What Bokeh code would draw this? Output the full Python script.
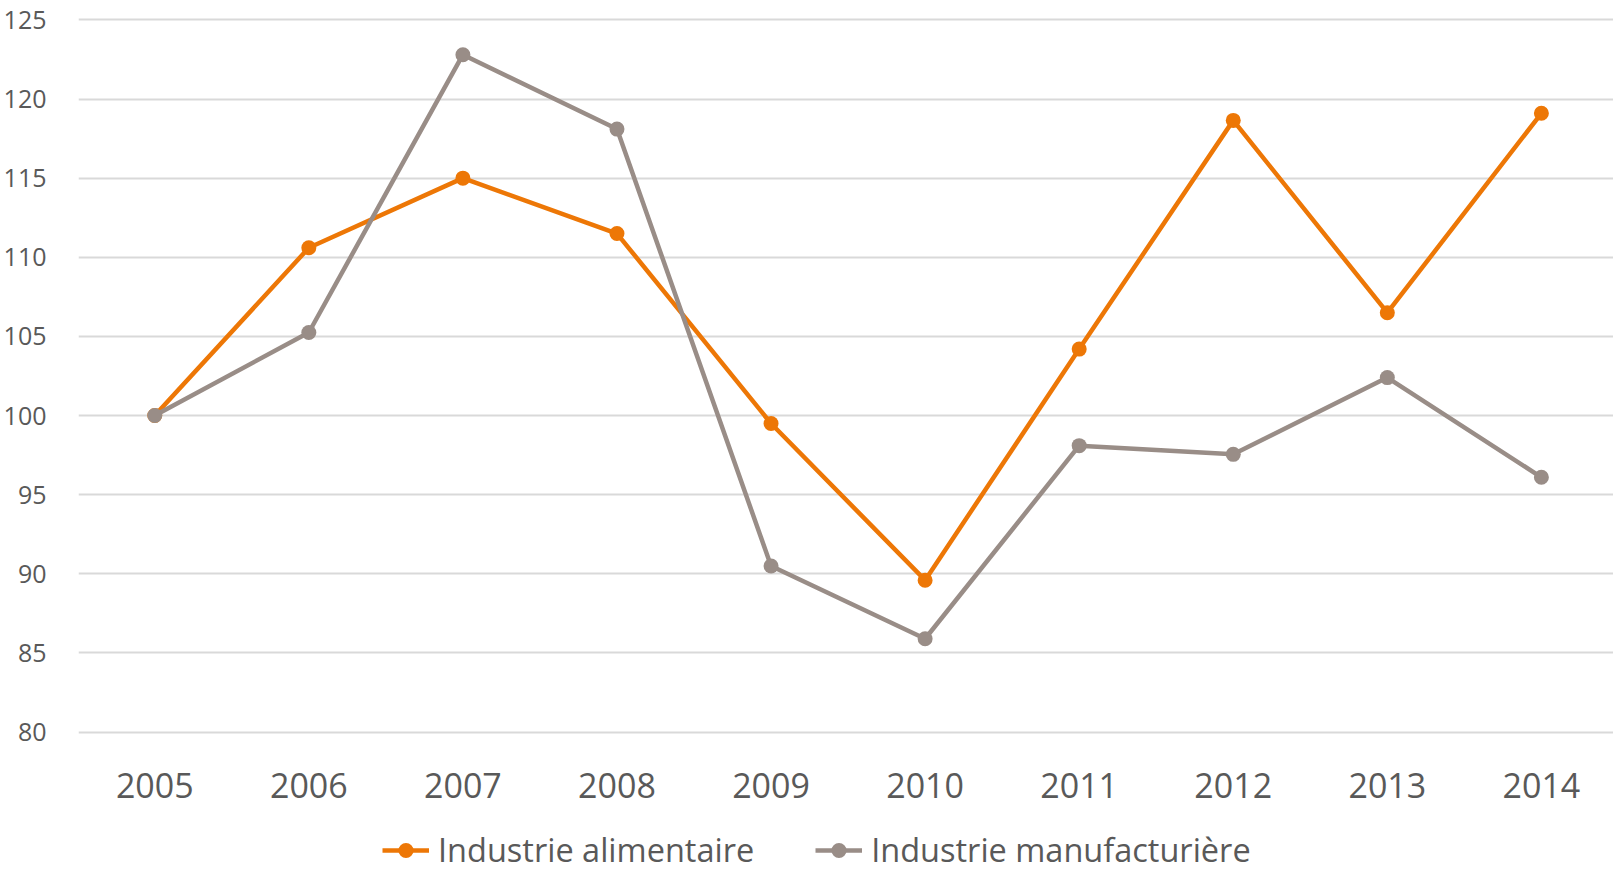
from bokeh.plotting import figure
from bokeh.layouts import column
from bokeh.models import Range1d, FixedTicker, Legend, LegendItem
from bokeh.embed import file_html
from bokeh.resources import INLINE

years = [2005, 2006, 2007, 2008, 2009, 2010, 2011, 2012, 2013, 2014]
alimentaire = [100.0, 110.6, 115.0, 111.5, 99.5, 89.6, 104.2, 118.65, 106.5, 119.1]
manufacturiere = [100.0, 105.25, 122.8, 118.1, 90.5, 85.9, 98.1, 97.55, 102.4, 96.1]
y_ticks = [80, 85, 90, 95, 100, 105, 110, 115, 120, 125]
series_names = ["Industrie alimentaire", "Industrie manufacturière"]

ORANGE = "#ED7706"
GRAY = "#998D87"
TEXT = "#595959"
FONT = "Open Sans"

p = figure(frame_width=1535, frame_height=717, output_backend="svg", toolbar_location=None,
           x_range=Range1d(2004.505, 2014.468), y_range=Range1d(79.85, 125.15),
           min_border_left=75, min_border_right=0, min_border_top=17, min_border_bottom=80)
p.outline_line_color = None
p.background_fill_color = "white"
p.border_fill_color = "white"

p.line(years, alimentaire, line_color=ORANGE, line_width=4.5, line_join="round")
p.scatter(years, alimentaire, size=15, fill_color=ORANGE, line_color=None)
p.line(years, manufacturiere, line_color=GRAY, line_width=4.5, line_join="round")
p.scatter(years, manufacturiere, size=15, fill_color=GRAY, line_color=None)

p.xgrid.grid_line_color = None
p.ygrid.grid_line_color = "#D9D9D9"
p.ygrid.grid_line_width = 2
p.yaxis.ticker = FixedTicker(ticks=y_ticks)
p.xaxis.ticker = FixedTicker(ticks=years)
p.xaxis.major_label_overrides = {y: str(y) for y in years}

for ax in (p.xaxis[0], p.yaxis[0]):
    ax.axis_line_color = None
    ax.major_tick_line_color = None
    ax.minor_tick_line_color = None
    ax.major_label_text_color = TEXT
    ax.major_label_text_font = FONT
p.yaxis.major_label_text_font_size = "25px"
p.yaxis.major_label_standoff = 26
p.xaxis.major_label_text_font_size = "34px"
p.xaxis.major_label_standoff = 32

# legend strip below the chart (its own renderers lie outside its ranges, so only the legend shows)
lp = figure(width=1610, height=58, output_backend="svg", toolbar_location=None,
            x_range=Range1d(0, 1), y_range=Range1d(0, 1), x_axis_type=None, y_axis_type=None,
            min_border_left=0, min_border_right=0, min_border_top=0, min_border_bottom=0)
lp.outline_line_color = None
lp.xgrid.grid_line_color = None
lp.ygrid.grid_line_color = None
items = []
for name, color, vals in zip(series_names, [ORANGE, GRAY], [alimentaire, manufacturiere]):
    rl = lp.line(years, vals, line_color=color, line_width=4.5)
    rs = lp.scatter(years, vals, size=15, fill_color=color, line_color=None)
    items.append(LegendItem(label=name, renderers=[rl, rs]))

legend = Legend(items=items, orientation="horizontal", location=(304, 0),
                label_text_font=FONT, label_text_font_size="32.5px", label_text_color=TEXT,
                glyph_width=47, glyph_height=38, label_standoff=9, spacing=61,
                padding=0, margin=0, border_line_color=None, background_fill_alpha=0)
lp.add_layout(legend, "center")

layout = column(p, lp, spacing=0)
open("out.html", "w").write(file_html(layout, INLINE))
